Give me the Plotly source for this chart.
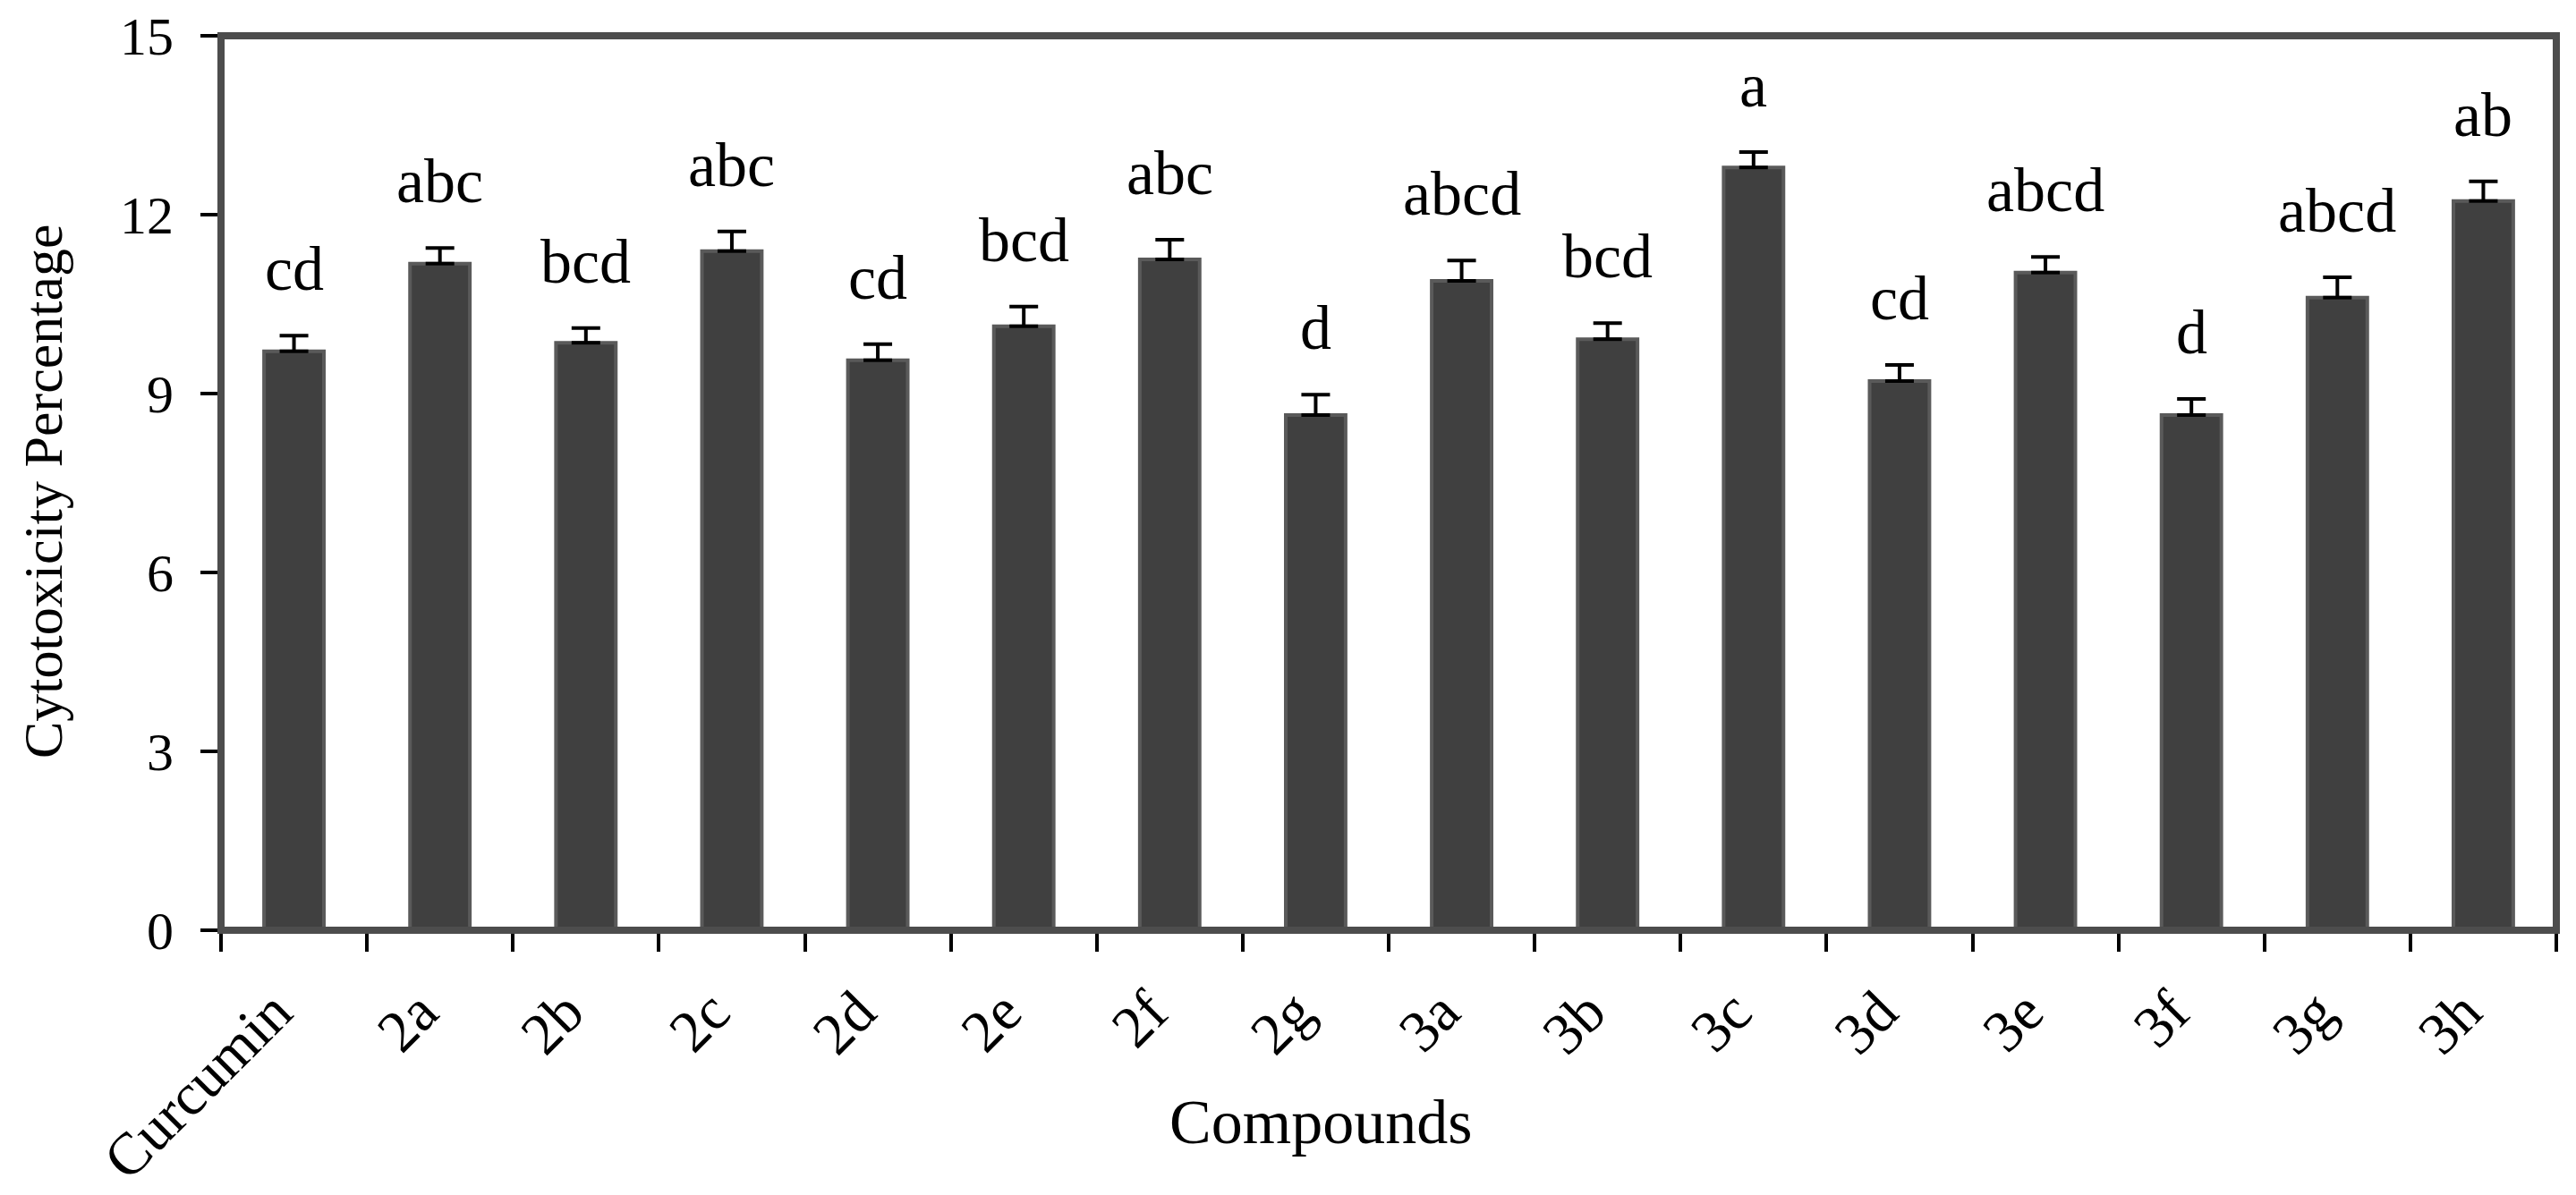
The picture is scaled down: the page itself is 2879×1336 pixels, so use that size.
import plotly.graph_objects as go

compounds = ["Curcumin", "2a", "2b", "2c", "2d", "2e", "2f", "2g",
             "3a", "3b", "3c", "3d", "3e", "3f", "3g", "3h"]
cytotoxicity = [9.71, 11.18, 9.85, 11.39, 9.56, 10.13, 11.25, 8.64,
                10.89, 9.91, 12.79, 9.21, 11.03, 8.64, 10.61, 12.23]
std_error = [0.26, 0.26, 0.25, 0.33, 0.27, 0.33, 0.33, 0.34,
             0.34, 0.27, 0.26, 0.27, 0.26, 0.27, 0.34, 0.33]
groups = ["cd", "abc", "bcd", "abc", "cd", "bcd", "abc", "d",
          "abcd", "bcd", "a", "cd", "abcd", "d", "abcd", "ab"]
y_ticks = [0, 3, 6, 9, 12, 15]

FONT = "Liberation Serif, Times New Roman, serif"

fig = go.Figure()
fig.add_trace(go.Bar(
    x=compounds,
    y=cytotoxicity,
    width=0.41,
    marker=dict(color="#404040", line=dict(color="#5a5a5a", width=4)),
    error_y=dict(type="data", symmetric=False, array=std_error,
                 arrayminus=[0] * len(std_error),
                 color="black", thickness=4, width=16),
    showlegend=False,
))

annotations = []
for c, v, e, g in zip(compounds, cytotoxicity, std_error, groups):
    annotations.append(dict(
        x=c, y=v + e, xref="x", yref="y", text=g, showarrow=False,
        yanchor="bottom", xanchor="center", yshift=34,
        font=dict(family=FONT, size=70, color="black"),
    ))

annotations.append(dict(
    text="Compounds", xref="paper", yref="paper", x=0.471, y=0,
    xanchor="center", yanchor="middle", yshift=-214, showarrow=False,
    font=dict(family=FONT, size=70, color="black"),
))
annotations.append(dict(
    text="Cytotoxicity Percentage", xref="paper", yref="paper", x=0, y=0.49,
    xanchor="center", yanchor="middle", xshift=-199, textangle=-90,
    showarrow=False, font=dict(family=FONT, size=62, color="black"),
))

fig.update_layout(
    width=2871, height=1328,
    margin=dict(l=239, r=22, t=32, b=296, autoexpand=False),
    paper_bgcolor="white", plot_bgcolor="white",
    font=dict(family=FONT, color="black"),
    annotations=annotations,
    shapes=[dict(type="rect", xref="paper", yref="paper", x0=0, x1=1, y0=0, y1=1,
                 line=dict(color="#4d4d4d", width=8), layer="above")],
)
fig.update_xaxes(
    type="category", tickson="boundaries", ticks="outside", ticklen=20,
    tickwidth=4, tickcolor="black", showline=True, linecolor="black",
    linewidth=4, showgrid=False, tickangle=-45, zeroline=False,
    automargin=False, ticklabelstandoff=22, ticklabelshift=-22,
    tickfont=dict(family=FONT, size=66, color="black"),
    range=[-0.5, len(compounds) - 0.5],
)
fig.update_yaxes(
    range=[0, 15], tickvals=y_ticks, ticktext=[str(t) for t in y_ticks],
    ticks="outside", ticklen=19, tickwidth=4, tickcolor="black",
    showline=True, linecolor="black", linewidth=4, showgrid=False,
    zeroline=False, ticklabelstandoff=18, automargin=False,
    tickfont=dict(family=FONT, size=60, color="black"),
)

fig.write_html("out.html")
